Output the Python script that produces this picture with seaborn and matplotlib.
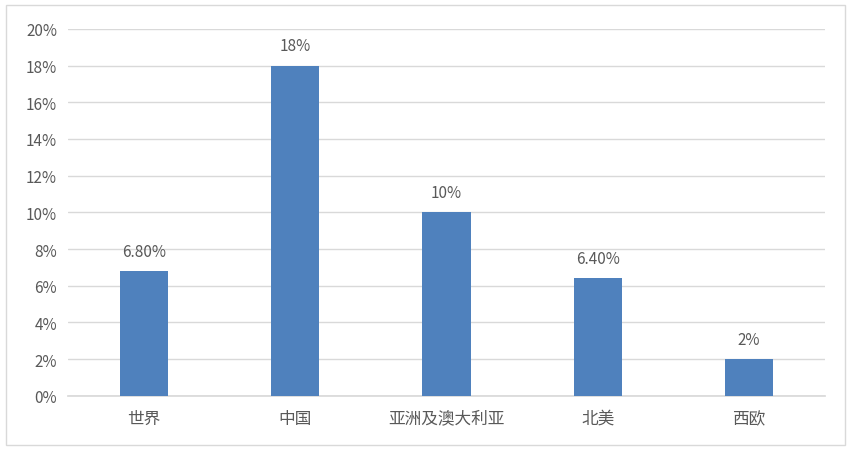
import matplotlib
matplotlib.use("Agg")
import matplotlib.pyplot as plt
import seaborn as sns
import pandas as pd
from matplotlib.patches import Rectangle
from matplotlib.ticker import FuncFormatter

# values
regions = ["世界", "中国", "亚洲及澳大利亚", "北美", "西欧"]
growth = [6.8, 18, 10, 6.4, 2]
bar_labels = ["6.80%", "18%", "10%", "6.40%", "2%"]
y_ticks = [0, 2, 4, 6, 8, 10, 12, 14, 16, 18, 20]

BAR_COLOR = "#4F81BD"
TEXT_COLOR = "#595959"
GRID_COLOR = "#D9D9D9"

sns.set_theme(style="white")
plt.rcParams["font.family"] = ["Noto Sans CJK SC", "DejaVu Sans"]

df = pd.DataFrame({"region": regions, "growth": growth})

fig = plt.figure(figsize=(8.52, 4.52), dpi=100)
ax = fig.add_axes([0.080, 0.122, 0.888, 0.812])

sns.barplot(data=df, x="region", y="growth", color=BAR_COLOR,
            saturation=1, width=0.32, linewidth=0, ax=ax, zorder=3)

for patch, label in zip(ax.patches, bar_labels):
    ax.annotate(label, (patch.get_x() + patch.get_width() / 2, patch.get_height()),
                xytext=(0, 8), textcoords="offset points", ha="center", va="bottom",
                fontsize=11, color=TEXT_COLOR)

ax.set_ylim(0, 20)
ax.set_yticks(y_ticks)
ax.yaxis.set_major_formatter(FuncFormatter(lambda v, _: f"{v:.0f}%"))
ax.grid(axis="y", color=GRID_COLOR, linewidth=1, zorder=0)
ax.set_xlabel("")
ax.set_ylabel("")
for side in ["top", "right", "left"]:
    ax.spines[side].set_visible(False)
ax.spines["bottom"].set_color(GRID_COLOR)
ax.tick_params(axis="y", length=0, labelsize=11, labelcolor=TEXT_COLOR, pad=8)
ax.tick_params(axis="x", length=0, labelsize=12, labelcolor=TEXT_COLOR, pad=10)

# light frame around the whole chart
fig.patches.append(Rectangle((0.007, 0.013), 0.985, 0.974, transform=fig.transFigure,
                             fill=False, edgecolor="#D9D9D9", linewidth=1))

fig.savefig("out.png", dpi=100)
